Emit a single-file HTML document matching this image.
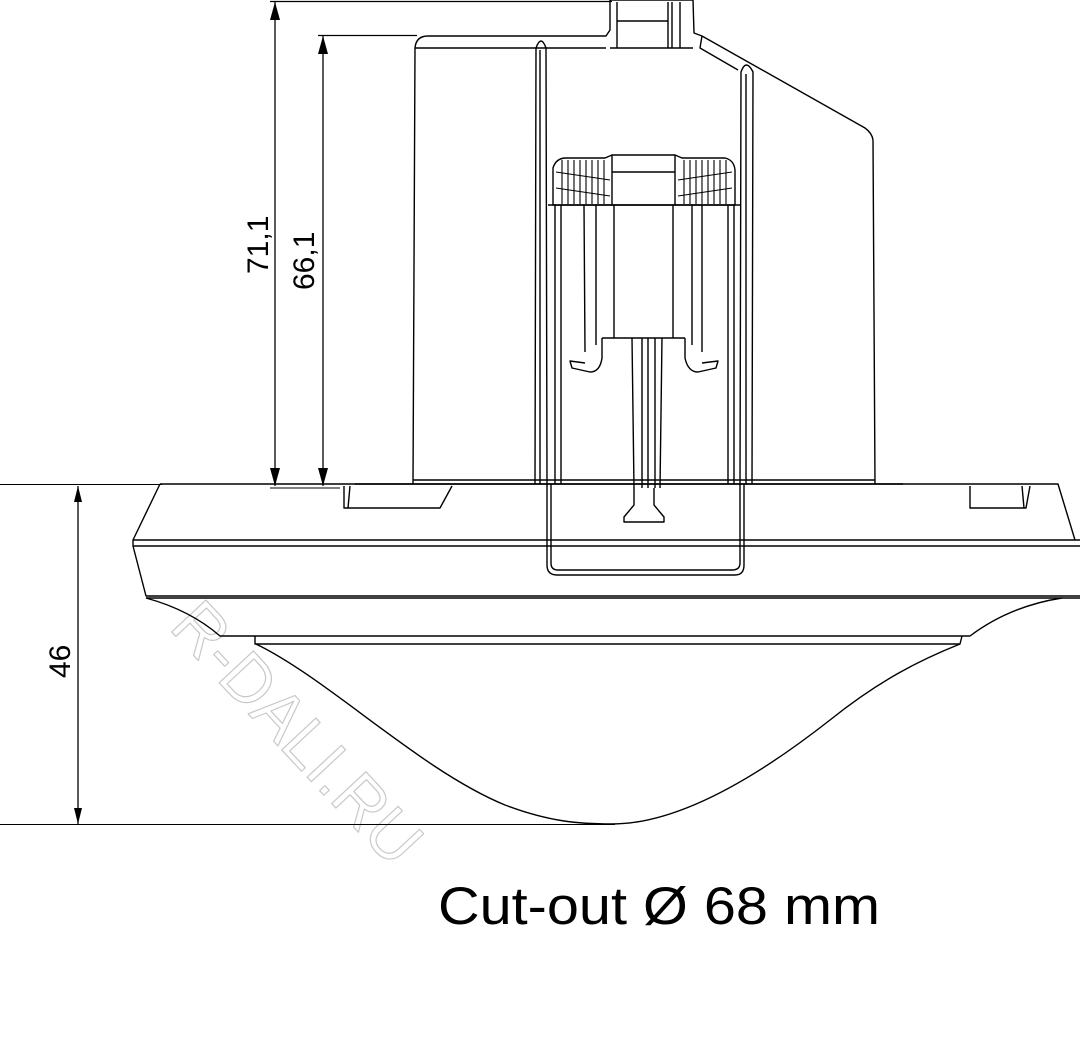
<!DOCTYPE html>
<html><head><meta charset="utf-8"><style>
html,body{margin:0;padding:0;background:#fff;}
svg{display:block}
</style></head><body>
<svg width="1080" height="1038" viewBox="0 0 1080 1038" xmlns="http://www.w3.org/2000/svg" font-family="Liberation Sans, sans-serif">
<g fill="none" stroke="#000" stroke-width="1.3" stroke-linejoin="round">
<!-- watermark -->
<text x="0" y="0" transform="translate(168,628) rotate(47)" font-size="68" fill="none" stroke="#c8c8c8" stroke-width="1.2" textLength="330" lengthAdjust="spacingAndGlyphs">R-DALI.RU</text>

<!-- dimension lines -->
<line x1="270" y1="1.5" x2="612" y2="1.5"/>
<line x1="318" y1="35.5" x2="417" y2="35.5"/>
<line x1="275" y1="2" x2="275" y2="486"/>
<line x1="323" y1="36" x2="323" y2="486"/>
<line x1="0" y1="484.5" x2="162" y2="484.5" stroke-width="1"/>
<line x1="270" y1="488" x2="340" y2="488" stroke-width="1"/>
<line x1="78" y1="486" x2="78" y2="824"/>
<line x1="0" y1="824.5" x2="615" y2="824.5" stroke-width="1"/>
</g>
<g fill="#000">
<polygon points="275,2 270,20 280,20"/>
<polygon points="275,486 270,468 280,468"/>
<polygon points="323,36 318,54 328,54"/>
<polygon points="323,486 318,468 328,468"/>
<polygon points="78,486 74,502 82,502"/>
<polygon points="78,824 74,808 82,808"/>
</g>
<g font-size="30" fill="#000">
<text transform="translate(268,274) rotate(-90)">71,1</text>
<text transform="translate(314,290) rotate(-90)">66,1</text>
<text transform="translate(70,678) rotate(-90)">46</text>
</g>
<text x="438" y="924" font-size="53" fill="#000" textLength="442" lengthAdjust="spacingAndGlyphs">Cut-out Ø 68 mm</text>

<g fill="none" stroke="#000" stroke-width="1.4" stroke-linejoin="round">
<!-- body -->
<path d="M413,484 L415,48 Q416,36 428,36 L606,36 L610,30 L610,0"/>
<path d="M610,0 L693,0 L694,33 L702,36 L865,128 Q872,133 873,140 L875,484"/>
<path d="M617,2 L617,48 M668,2 L668,48 M617,21 L668,21 M672,2 L672,48 M680,2 L680,48 M610,48 L693,48"/>
<path d="M415,48 L606,48 M702,36 L700,48 L738,70"/>
<!-- left strip -->
<path d="M535,484 L536,48 Q541,34 546,48 L547,484"/>
<path d="M540,50 L540,484"/>
<!-- right strip -->
<path d="M740,484 L741,72 Q746,58 753,72 L752,484"/>
<path d="M746,74 L746,484"/>
<!-- coils -->
<path d="M553,205 L553,168 Q556,158 566,158 L605,158 L612,155 L675,155 L682,158 L725,158 Q734,160 735,170 L735,205 Z"/>
<path d="M612,155 L612,205 M675,155 L675,205 M612,172 L675,172"/>
<g stroke-width="1.1">
<path d="M562,160 L562,204 M568,160 L568,204 M574,160 L574,204 M580,160 L580,204 M586,160 L586,204 M592,160 L592,204 M598,160 L598,204 M604,160 L604,204"/>
<path d="M684,160 L684,204 M690,160 L690,204 M696,160 L696,204 M702,160 L702,204 M708,160 L708,204 M714,160 L714,204 M720,160 L720,204 M726,160 L726,204"/>
<path d="M556,172 L610,180 M556,188 L610,196 M678,180 L732,172 M678,196 L732,188"/>
</g>
<!-- inner frame -->
<path d="M548,205 L740,205"/>
<path d="M555,205 L555,484 M561,205 L561,484 M728,205 L728,484 M734,205 L734,484"/>
<path d="M584,205 L585,352 M596,205 L596,345 M692,205 L692,345 M702,205 L702,352"/>
<path d="M614,205 L614,338 M673,205 L673,338 M602,338 L685,338"/>
<path d="M602,338 L602,358 Q600,372 590,372 L572,368 L570,361 L585,363"/>
<path d="M685,338 L685,358 Q688,372 698,372 L716,368 L718,361 L702,363"/>
<!-- screw -->
<path d="M632,338 L634,488 M662,338 L660,488 M642,338 L642,488 M648,338 L648,488 M655,338 L655,488"/>
<path d="M634,488 L634,505 L624,517 L624,522 L664,522 L664,517 L654,505 L654,488"/>
<!-- base -->
<path d="M413,480 L875,480 M355,484 L903,484"/>
<path d="M160,484 L1058,484 L1075,540"/>
<path d="M160,484 L133,540 L133,546 L146,596 L1080,596"/>
<path d="M133,540 L1080,540 M133,546 L1080,546 M146,598 L1080,598"/>
<path d="M344,486 L344,508 L440,508 L452,486"/>
<path d="M350,486 L348,508"/>
<path d="M970,486 L970,508 L1026,508 L1030,486 M1022,486 L1024,508"/>
<!-- U bracket -->
<path d="M547,484 L547,565 Q547,575 557,575 L735,575 Q744,575 744,565 L744,484"/>
<path d="M551,484 L551,563 Q551,570 558,570 L732,570 Q740,570 740,563 L740,484"/>
<!-- dome -->
<path d="M146,598 Q190,610 220,636 L970,636 Q1010,606 1062,598"/>
<path d="M255,636 L255,644 L960,644 L962,636"/>
<path d="M256,644 C330,680 420,770 505,805 C550,822 580,824 612,824 C680,824 760,775 830,720 C880,680 920,660 960,644"/>
</g>
</svg>
</body></html>
